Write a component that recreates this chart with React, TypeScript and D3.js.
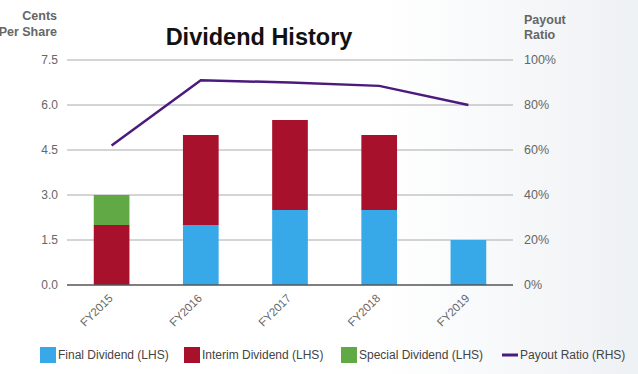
import React, { useEffect, useRef } from "react";
import * as d3 from "d3";

const years = ["FY2015", "FY2016", "FY2017", "FY2018", "FY2019"];
const finalDiv = [0, 2.0, 2.5, 2.5, 1.5];
const interimDiv = [2.0, 3.0, 3.0, 2.5, 0];
const specialDiv = [1.0, 0, 0, 0, 0];
const payoutRatio = [62, 91, 90, 88.5, 80];
const leftTicks = [0, 1.5, 3.0, 4.5, 6.0, 7.5];
const rightTicks = [0, 20, 40, 60, 80, 100];

const colors = { final: "#37a8e8", interim: "#a8112c", special: "#60a944", line: "#4b1a7c" };

const App: React.FC = () => {
    const svgRef = useRef<SVGSVGElement>(null);

    useEffect(() => {
        document.body.style.margin = "0";
        const width = 638;
        const height = 374;
        const m = { left: 67, right: 513, top: 60, bottom: 285 };

        const svg = d3.select(svgRef.current)
            .attr("width", width)
            .attr("height", height)
            .style("font-family", "'Liberation Sans', Arial, sans-serif");
        svg.selectAll("*").remove();

        // faint background wash on the right
        const defs = svg.append("defs");
        const grad = defs.append("linearGradient").attr("id", "bg").attr("x1", "0").attr("x2", "1");
        grad.append("stop").attr("offset", "0.6").attr("stop-color", "#ffffff");
        grad.append("stop").attr("offset", "1").attr("stop-color", "#eef1f4");
        svg.append("rect").attr("width", width).attr("height", height).attr("fill", "url(#bg)");

        const x = d3.scaleBand().domain(years).range([m.left, m.right]).paddingInner(0.6).paddingOuter(0.3);
        const y = d3.scaleLinear().domain([0, 7.5]).range([m.bottom, m.top]);
        const y2 = d3.scaleLinear().domain([0, 100]).range([m.bottom, m.top]);

        // grid
        svg.append("g")
            .selectAll("line")
            .data(leftTicks.slice(1))
            .join("line")
            .attr("x1", m.left).attr("x2", m.right)
            .attr("y1", d => y(d)).attr("y2", d => y(d))
            .attr("stroke", "#aaaaaa").attr("stroke-width", 1);

        // stacked bars
        const rows = years.map((yr, i) => ({ yr, final: finalDiv[i], interim: interimDiv[i], special: specialDiv[i] }));
        const stack = d3.stack<any>().keys(["final", "interim", "special"])(rows);
        svg.append("g")
            .selectAll("g")
            .data(stack)
            .join("g")
            .attr("fill", d => (colors as any)[d.key])
            .selectAll("rect")
            .data(d => d.filter(s => s[1] - s[0] > 0))
            .join("rect")
            .attr("x", d => x(d.data.yr)!)
            .attr("width", x.bandwidth())
            .attr("y", d => y(d[1]))
            .attr("height", d => y(d[0]) - y(d[1]));

        // baseline
        svg.append("line")
            .attr("x1", m.left).attr("x2", m.right)
            .attr("y1", y(0)).attr("y2", y(0))
            .attr("stroke", "#555").attr("stroke-width", 1.5);

        // payout line
        const line = d3.line<number>()
            .x((d, i) => x(years[i])! + x.bandwidth() / 2)
            .y(d => y2(d));
        svg.append("path")
            .datum(payoutRatio)
            .attr("d", line)
            .attr("fill", "none")
            .attr("stroke", colors.line)
            .attr("stroke-width", 2.5);

        // left ticks
        svg.append("g")
            .selectAll("text")
            .data(leftTicks)
            .join("text")
            .attr("x", 58).attr("y", d => y(d)).attr("dy", "0.35em")
            .attr("text-anchor", "end")
            .attr("fill", "#666").style("font-size", "12px")
            .text(d => d.toFixed(1));

        // right ticks
        svg.append("g")
            .selectAll("text")
            .data(rightTicks)
            .join("text")
            .attr("x", 524).attr("y", d => y2(d)).attr("dy", "0.35em")
            .attr("fill", "#666").style("font-size", "12.5px")
            .text(d => d + "%");

        // x labels
        svg.append("g")
            .selectAll("text")
            .data(years)
            .join("text")
            .attr("transform", d => `translate(${x(d)! + x.bandwidth() / 2 - 1},${y(0) + 11}) rotate(-45)`)
            .attr("text-anchor", "end")
            .attr("dy", "0.35em")
            .attr("fill", "#666").style("font-size", "11.5px")
            .text(d => d);

        // axis titles
        const axTitle = svg.append("g").attr("fill", "#666").style("font-size", "12.5px").style("font-weight", "bold");
        axTitle.append("text").attr("x", 57).attr("y", 20).attr("text-anchor", "end").text("Cents");
        axTitle.append("text").attr("x", 57).attr("y", 36).attr("text-anchor", "end").text("Per Share");
        axTitle.append("text").attr("x", 524).attr("y", 24).text("Payout");
        axTitle.append("text").attr("x", 524).attr("y", 39).text("Ratio");

        // title
        svg.append("text")
            .attr("x", 259).attr("y", 45)
            .attr("text-anchor", "middle")
            .style("font-size", "23.5px").style("font-weight", "bold")
            .attr("fill", "#111")
            .text("Dividend History");

        // legend
        const legend = [
            { label: "Final Dividend (LHS)", color: colors.final, x: 40, type: "box" },
            { label: "Interim Dividend (LHS)", color: colors.interim, x: 184, type: "box" },
            { label: "Special Dividend (LHS)", color: colors.special, x: 341, type: "box" },
            { label: "Payout Ratio (RHS)", color: colors.line, x: 502, type: "line" },
        ];
        const lg = svg.append("g").selectAll("g").data(legend).join("g")
            .attr("transform", d => `translate(${d.x},355)`);
        lg.filter(d => d.type === "box").append("rect")
            .attr("x", 0).attr("y", -8).attr("width", 16).attr("height", 16)
            .attr("fill", d => d.color);
        lg.filter(d => d.type === "line").append("line")
            .attr("x1", 0).attr("x2", 16).attr("y1", 0).attr("y2", 0)
            .attr("stroke", d => d.color).attr("stroke-width", 3);
        lg.append("text")
            .attr("x", 18).attr("y", 0).attr("dy", "0.35em")
            .attr("fill", "#444").style("font-size", "12px")
            .text(d => d.label);
    }, []);

    return <svg ref={svgRef} style={{ display: "block" }}></svg>;
};

export default App;
